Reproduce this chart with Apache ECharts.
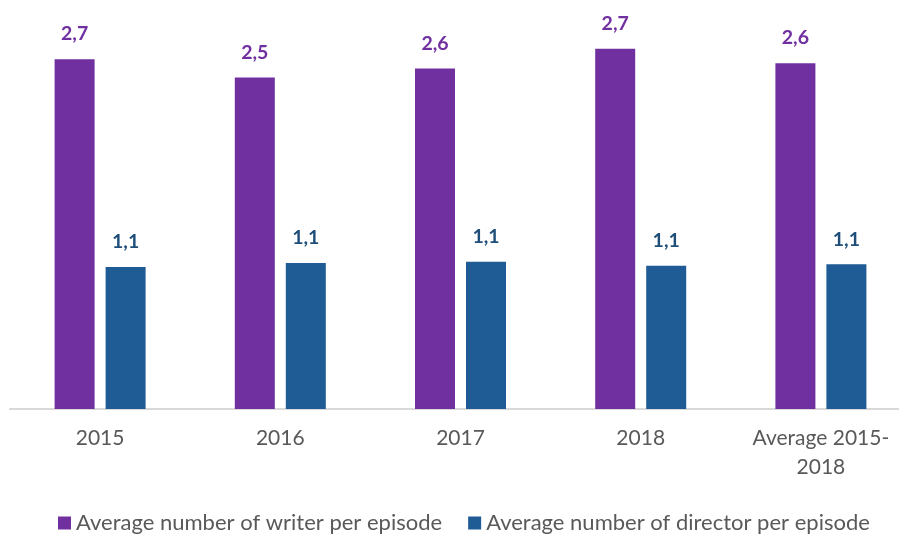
<!DOCTYPE html>
<html>
<head>
<meta charset="utf-8">
<script src="https://cdn.jsdelivr.net/npm/echarts@6/dist/echarts.min.js"></script>
<style>
  html, body { margin: 0; padding: 0; background: #fff; }
  #chart { width: 899px; height: 535px; }
</style>
</head>
<body>
<div id="chart"></div>
<script>
const categories = ["2015", "2016", "2017", "2018", "Average 2015-\n2018"];
const writerValues = [2.66, 2.52, 2.59, 2.74, 2.63];
const directorValues = [1.08, 1.11, 1.12, 1.09, 1.10];
const seriesNames = ["Average number of writer per episode", "Average number of director per episode"];

const FONT = "Lato, 'Open Sans', sans-serif";
const fmt = p => p.value.toFixed(1).replace(".", ",");

const myChart = echarts.init(document.getElementById("chart"));
const option = {
    animation: false,
    grid: {
        left: 10,
        width: 901,
        top: 14.5,
        bottom: 126,
        outerBoundsMode: "none",
    },
    legend: {
        top: 507,
        left: 53,
        itemWidth: 13,
        itemHeight: 13,
        itemGap: 26,
        icon: "rect",
        textStyle: {
            fontFamily: FONT,
            fontSize: 22,
            color: "#595959",
        },
        data: seriesNames,
    },
    xAxis: {
        type: "category",
        data: categories,
        axisLine: { lineStyle: { color: "#d9d9d9", width: 2 } },
        axisTick: { show: false },
        axisLabel: {
            margin: 15,
            fontFamily: FONT,
            fontSize: 21,
            lineHeight: 29,
            color: "#595959",
        },
    },
    yAxis: {
        type: "value",
        min: 0,
        max: 3,
        show: false,
    },
    series: [
        {
            name: seriesNames[0],
            type: "bar",
            data: writerValues,
            barWidth: 40,
            barGap: "27.5%",
            itemStyle: { color: "#7030a0" },
            label: {
                show: true,
                position: "top",
                distance: 15,
                formatter: fmt,
                fontFamily: FONT,
                fontWeight: "bold",
                fontSize: 19.5,
                color: "#7030a0",
            },
        },
        {
            name: seriesNames[1],
            type: "bar",
            data: directorValues,
            barWidth: 40,
            itemStyle: { color: "#1f5b94" },
            label: {
                show: true,
                position: "top",
                distance: 15,
                formatter: fmt,
                fontFamily: FONT,
                fontWeight: "bold",
                fontSize: 19.5,
                color: "#1f4e79",
            },
        },
    ],
};
myChart.setOption(option);
</script>
</body>
</html>
